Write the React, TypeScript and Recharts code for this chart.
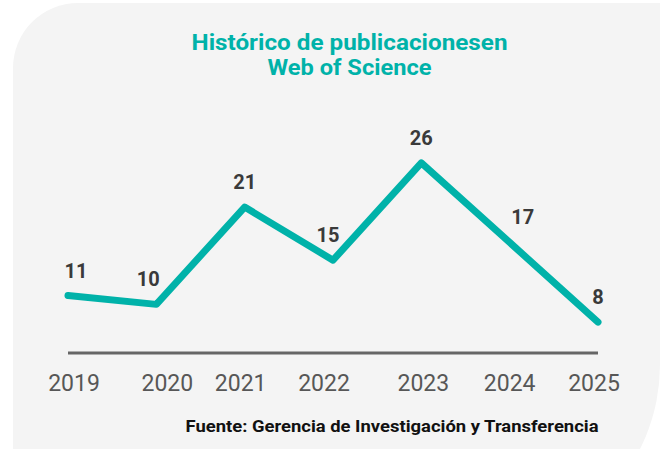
import React from 'react';
import { LabelList, Line, LineChart, XAxis, YAxis } from 'recharts';

// datos del gráfico
const years = ['2019', '2020', '2021', '2022', '2023', '2024', '2025'];
const publications = [11, 10, 21, 15, 26, 17, 8];

const title = ['Histórico de publicacionesen', 'Web of Science'];
const source = 'Fuente: Gerencia de Investigación y Transferencia';

// pequeños ajustes de posición de textos (el original no está alineado)
const tickShift = [6, 11, -4, -9, 2, 0, -4];
const labelShift = [8, -8, 0, -5, 0, 13, 0];

const TEAL = '#00b2a9';
const FONT = 'Roboto, "Open Sans", sans-serif';

const data = years.map((year, i) => ({ year, value: publications[i] }));

const YearTick = (props: any) => {
  const { x, y, payload, index } = props;
  return (
    <text
      x={x + (tickShift[index] || 0)}
      y={y + 29.5}
      textAnchor="middle"
      fill="#575757"
      fontSize={23}
      fontFamily={FONT}
    >
      {payload.value}
    </text>
  );
};

const ValueLabel = (props: any) => {
  const { x, y, value, index } = props;
  return (
    <text
      x={x + (labelShift[index] || 0)}
      y={y - 18}
      textAnchor="middle"
      fill="#3a3a3a"
      fontSize={20}
      fontWeight={700}
      fontFamily={FONT}
    >
      {value}
    </text>
  );
};

const App: React.FC = () => {
  return (
    <div style={{ position: 'absolute', left: 0, top: 0, width: 660, height: 449, background: '#fff' }}>
      <svg width={660} height={449} style={{ position: 'absolute', left: 0, top: 0 }}>
        <path
          d="M13,68 A65,65 0 0 1 78,3 L660,3 L660,365 A186,186 0 0 1 474,551 L13,551 Z"
          fill="#f4f4f4"
        />
        <text
          x={349.5}
          y={50}
          textAnchor="middle"
          fill={TEAL}
          fontSize={22}
          fontWeight={700}
          fontFamily={FONT}
          textLength={316}
          lengthAdjust="spacingAndGlyphs"
        >
          {title[0]}
        </text>
        <text
          x={349.5}
          y={75}
          textAnchor="middle"
          fill={TEAL}
          fontSize={22}
          fontWeight={700}
          fontFamily={FONT}
          textLength={164}
          lengthAdjust="spacingAndGlyphs"
        >
          {title[1]}
        </text>
        <text
          x={598.5}
          y={432}
          textAnchor="end"
          fill="#111"
          fontSize={16.5}
          fontWeight={700}
          fontFamily={FONT}
          textLength={413}
          lengthAdjust="spacingAndGlyphs"
        >
          {source}
        </text>
      </svg>
      <div style={{ position: 'absolute', left: 0, top: 0 }}>
        <LineChart width={660} height={449} data={data} margin={{ top: 101, right: 62, bottom: 66, left: 68 }}>
          <XAxis
            dataKey="year"
            height={30}
            axisLine={{ stroke: '#666', strokeWidth: 3 }}
            tickLine={false}
            tick={<YearTick />}
            interval={0}
          />
          <YAxis hide type="number" domain={[4.5, 33]} />
          <Line
            type="linear"
            dataKey="value"
            stroke={TEAL}
            strokeWidth={7}
            strokeLinecap="round"
            strokeLinejoin="round"
            dot={false}
            activeDot={false}
            isAnimationActive={false}
          >
            <LabelList dataKey="value" content={<ValueLabel />} />
          </Line>
        </LineChart>
      </div>
    </div>
  );
};

export default App;
